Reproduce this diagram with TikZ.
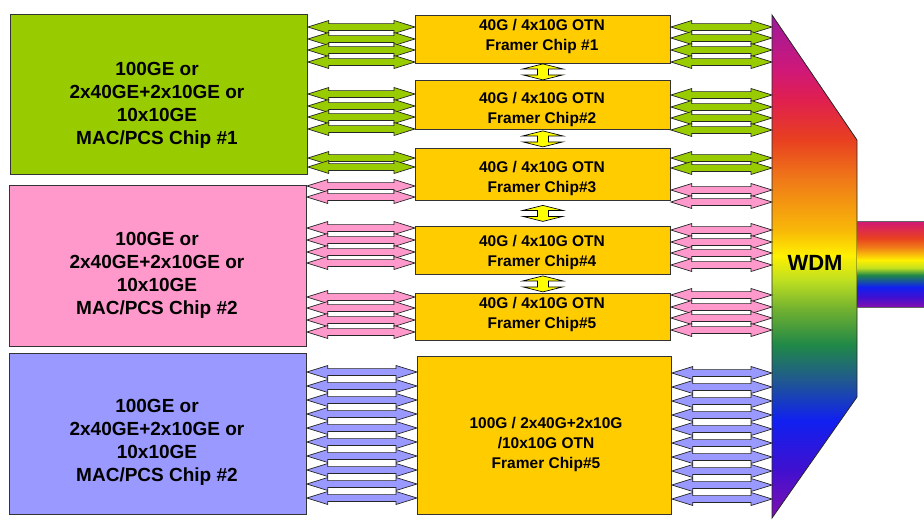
\documentclass[tikz,border=0pt]{standalone}
\usepackage{fontspec}
\setmainfont{Liberation Sans}
\usetikzlibrary{calc}

\definecolor{macgreen}{HTML}{99CC00}
\definecolor{macpink}{HTML}{FF99CC}
\definecolor{macblue}{HTML}{9999FF}
\definecolor{otnamber}{HTML}{FFCC00}
\definecolor{tieyellow}{HTML}{FFFF00}

% rainbow of the WDM block (bottom to top)
\definecolor{rb-violet}{HTML}{8010B0}
\definecolor{rb-indigo}{HTML}{4010D0}
\definecolor{rb-blue}{HTML}{1020F0}
\definecolor{rb-teal}{HTML}{205890}
\definecolor{rb-green}{HTML}{208848}
\definecolor{rb-olive}{HTML}{70B030}
\definecolor{rb-lime}{HTML}{C0E020}
\definecolor{rb-yellow}{HTML}{FFF000}
\definecolor{rb-amber}{HTML}{F8B808}
\definecolor{rb-orange}{HTML}{F07A18}
\definecolor{rb-red}{HTML}{E84020}
\definecolor{rb-rose}{HTML}{E0204E}
\definecolor{rb-magenta}{HTML}{D01878}
\definecolor{rb-purple}{HTML}{9C1A9C}

\pgfdeclareverticalshading{wdmrainbow}{100bp}{%
  color(0bp)=(rb-violet); color(25bp)=(rb-violet); color(29.8bp)=(rb-indigo);
  color(34.7bp)=(rb-blue); color(38.7bp)=(rb-teal); color(42.2bp)=(rb-green);
  color(45.7bp)=(rb-olive); color(48.7bp)=(rb-lime); color(51.1bp)=(rb-yellow);
  color(53.6bp)=(rb-amber); color(58.6bp)=(rb-orange); color(62.6bp)=(rb-red);
  color(66.5bp)=(rb-rose); color(69.5bp)=(rb-magenta); color(75bp)=(rb-purple);
  color(100bp)=(rb-purple)}

\pgfdeclareverticalshading{beamrainbow}{100bp}{%
  color(0bp)=(rb-violet); color(25bp)=(rb-violet); color(30.8bp)=(rb-indigo);
  color(36.6bp)=(rb-blue); color(43.6bp)=(rb-green); color(47.7bp)=(rb-lime);
  color(52.3bp)=(rb-yellow); color(59.9bp)=(rb-orange); color(65.1bp)=(rb-red);
  color(75bp)=(rb-magenta); color(100bp)=(rb-magenta)}

% double block arrow: colour, left anchor, right anchor, y (px)
\def\lanehead{21pt}
\def\lanehalf{6.5pt}
\def\shafthalf{3.4pt}
\newcommand\duplex[4]{%
  \filldraw[lane, fill=#1] let \p1=(#2), \p2=(#3), \p3=(0,#4) in
  (\x1,\y3) -- (\x1+\lanehead,\y3+\lanehalf) -- (\x1+\lanehead,\y3+\shafthalf)
  -- (\x2-\lanehead,\y3+\shafthalf) -- (\x2-\lanehead,\y3+\lanehalf) -- (\x2,\y3)
  -- (\x2-\lanehead,\y3-\lanehalf) -- (\x2-\lanehead,\y3-\shafthalf)
  -- (\x1+\lanehead,\y3-\shafthalf) -- (\x1+\lanehead,\y3-\lanehalf) -- cycle;}

% vertical link between two framers: upper anchor, lower anchor
\def\tiehalf{20pt}
\def\tiehead{5pt}
\def\tieshaft{5.5pt}
\newcommand\tiepair[2]{%
  \filldraw[tie] let \p1=($(#1)!0.5!(#2)$) in
  (\x1,\y1+8pt) -- (\x1+\tiehalf,\y1+8pt-\tiehead) -- (\x1+\tieshaft,\y1+8pt-\tiehead)
  -- (\x1+\tieshaft,\y1-8pt+\tiehead) -- (\x1+\tiehalf,\y1-8pt+\tiehead) -- (\x1,\y1-8pt)
  -- (\x1-\tiehalf,\y1-8pt+\tiehead) -- (\x1-\tieshaft,\y1-8pt+\tiehead)
  -- (\x1-\tieshaft,\y1+8pt-\tiehead) -- (\x1-\tiehalf,\y1+8pt-\tiehead) -- cycle;}

\begin{document}
\begin{tikzpicture}[x=1pt, y=-1pt,
    every node/.style={font=\bfseries},
    chip/.style={draw=black!80, line width=0.8pt, anchor=north west, inner sep=0pt},
    mactext/.style={align=center, font=\fontsize{19}{23}\selectfont\bfseries},
    otntext/.style={align=center, font=\fontsize{15.5}{20}\selectfont\bfseries},
    lane/.style={draw=black!85, line width=0.7pt},
    tie/.style={fill=tieyellow, draw=black, line width=0.7pt}]

    \useasboundingbox (0,0) rectangle (924,520);

    % === MAC/PCS chips ===
    \node[chip, fill=macgreen, minimum width=297, minimum height=160] (mac1) at (10,14) {};
    \node[chip, fill=macpink, minimum width=297, minimum height=161] (mac2) at (9,185) {};
    \node[chip, fill=macblue, minimum width=297, minimum height=161] (mac3) at (9,353) {};

    \node[mactext] (mac1-txt) at (157,105)
    {100GE or\\2x40GE+2x10GE or\\10x10GE\\MAC/PCS Chip \#1};
    \node[mactext] (mac2-txt) at (157,275)
    {100GE or\\2x40GE+2x10GE or\\10x10GE\\MAC/PCS Chip \#2};
    \node[mactext] (mac3-txt) at (157,442)
    {100GE or\\2x40GE+2x10GE or\\10x10GE\\MAC/PCS Chip \#2};

    % === OTN framers ===
    \node[chip, fill=otnamber, minimum width=255, minimum height=48] (fr1) at (415,15) {};
    \node[chip, fill=otnamber, minimum width=255, minimum height=49] (fr2) at (415,80) {};
    \node[chip, fill=otnamber, minimum width=255, minimum height=52] (fr3) at (415,148) {};
    \node[chip, fill=otnamber, minimum width=255, minimum height=48] (fr4) at (415,226) {};
    \node[chip, fill=otnamber, minimum width=255, minimum height=47] (fr5) at (415,293) {};
    \node[chip, fill=otnamber, minimum width=254, minimum height=158] (fr6) at (417,356) {};

    \node[otntext] (fr1-txt) at (542,36) {40G / 4x10G OTN\\Framer Chip \#1};
    \node[otntext] (fr2-txt) at (542,109.5) {40G / 4x10G OTN\\Framer Chip\#2};
    \node[otntext] (fr3-txt) at (542,178.5) {40G / 4x10G OTN\\Framer Chip\#3};
    \node[otntext] (fr4-txt) at (542,252.5) {40G / 4x10G OTN\\Framer Chip\#4};
    \node[otntext] (fr5-txt) at (542,314.5) {40G / 4x10G OTN\\Framer Chip\#5};
    \node[otntext] (fr6-txt) at (546,444.5) {100G / 2x40G+2x10G\\/10x10G OTN\\Framer Chip\#5};

    % === WDM block and output beam ===
    \coordinate (wdm-nw) at (772,15);
    \coordinate (wdm-ne) at (857,140);
    \coordinate (wdm-se) at (857,397);
    \coordinate (wdm-sw) at (772,518);
    \shade[shading=wdmrainbow, draw=black!85, line width=0.8pt]
    (wdm-nw) -- (wdm-ne) -- (wdm-se) -- (wdm-sw) -- cycle;

    \coordinate (beam-nw) at (857,221);
    \coordinate (beam-sw) at (857,307);
    \coordinate (beam-ne) at (924,221);
    \coordinate (beam-se) at (924,307);
    \shade[shading=beamrainbow] (beam-nw) rectangle (beam-se);
    \draw[black!60, line width=0.6pt] (beam-nw) -- (beam-ne) (beam-sw) -- (beam-se);

    \node[font=\fontsize{22}{26}\selectfont\bfseries] (wdm) at (815,263) {WDM};

    % === MAC side lanes ===
    \foreach \ln in {27,39,50,62} {\duplex{macgreen}{mac1.east}{fr1.west}{\ln}}
    \foreach \ln in {94,106,117,129} {\duplex{macgreen}{mac1.east}{fr2.west}{\ln}}
    \foreach \ln in {158,167} {\duplex{macgreen}{mac1.east}{fr3.west}{\ln}}
    \foreach \ln in {186,197} {\duplex{macpink}{mac2.east}{fr3.west}{\ln}}
    \foreach \ln in {228,240,252,263} {\duplex{macpink}{mac2.east}{fr4.west}{\ln}}
    \foreach \ln in {297,308,320,332} {\duplex{macpink}{mac2.east}{fr5.west}{\ln}}
    \foreach \i [evaluate=\i as \ln using 372+14*\i] in {0,...,9}
    {\duplex{macblue}{mac3.east}{fr6.west}{\ln}}

    % === WDM side lanes ===
    \foreach \ln in {27,38,50,62} {\duplex{macgreen}{fr1.east}{wdm-nw}{\ln}}
    \foreach \ln in {95,107,118,130} {\duplex{macgreen}{fr2.east}{wdm-nw}{\ln}}
    \foreach \ln in {158,168} {\duplex{macgreen}{fr3.east}{wdm-nw}{\ln}}
    \foreach \ln in {190,202} {\duplex{macpink}{fr3.east}{wdm-nw}{\ln}}
    \foreach \ln in {230,242,253,265} {\duplex{macpink}{fr4.east}{wdm-nw}{\ln}}
    \foreach \ln in {295,307,318,330} {\duplex{macpink}{fr5.east}{wdm-nw}{\ln}}
    \foreach \i [evaluate=\i as \ln using 373+14*\i] in {0,...,9}
    {\duplex{macblue}{fr6.east}{wdm-nw}{\ln}}

    % === Links between framers ===
    \tiepair{fr1.south}{fr2.north}
    \tiepair{fr2.south}{fr3.north}
    \tiepair{fr3.south}{fr4.north}
    \tiepair{fr4.south}{fr5.north}

\end{tikzpicture}
\end{document}
